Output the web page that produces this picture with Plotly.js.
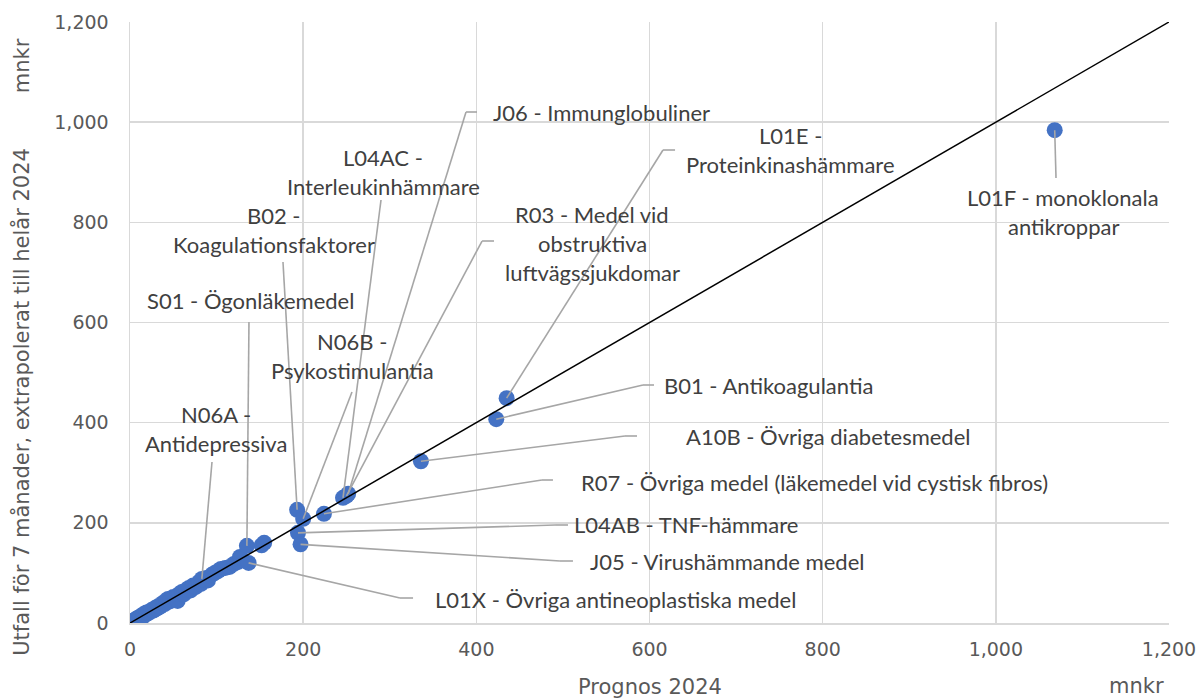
<!DOCTYPE html>
<html>
<head>
<meta charset="utf-8">
<script src="https://cdn.plot.ly/plotly-3.0.1.min.js"></script>
<style>html,body{margin:0;padding:0;background:#fff;}#chart{width:1200px;height:700px;}</style>
</head>
<body>
<div id="chart"></div>
<script>
// Labelled ATC groups
const codes   = ['L01F','L01E','B01','A10B','J06','L04AC','R03','R07','B02','N06B','L04AB','J05','S01','L01X','N06A'];
const prognos = [1068, 435, 423, 336, 252, 246, 250, 224, 193, 200, 194, 197, 135, 137, 83];
const utfall  = [ 984, 449, 407, 323, 258, 250, 254, 218, 226, 208, 180, 157, 154, 120, 88];
const labelText = {
  L01F: ['L01F - monoklonala', 'antikroppar'],
  L01E: ['L01E -', 'Proteinkinashämmare'],
  B01: ['B01 - Antikoagulantia'],
  A10B: ['A10B - Övriga diabetesmedel'],
  J06: ['J06 - Immunglobuliner'],
  L04AC: ['L04AC -', 'Interleukinhämmare'],
  R03: ['R03 - Medel vid', 'obstruktiva', 'luftvägssjukdomar'],
  R07: ['R07 - Övriga medel (läkemedel vid cystisk fibros)'],
  B02: ['B02 -', 'Koagulationsfaktorer'],
  N06B: ['N06B -', 'Psykostimulantia'],
  L04AB: ['L04AB - TNF-hämmare'],
  J05: ['J05 - Virushämmande medel'],
  S01: ['S01 - Ögonläkemedel'],
  L01X: ['L01X - Övriga antineoplastiska medel'],
  N06A: ['N06A -', 'Antidepressiva']
};
// Unlabelled ATC groups
const otherPrognos = [0,1,2,2,3,4,5,6,7,8,9,10,11,12,14,15,16,18,19,21,23,25,27,29,31,33,35,38,40,42,44,46,50,53,55,57,60,62,65,68,70,73,76,80,82,85,88,90,95,98,102,105,110,115,120,125,127,128,152,155];
const otherUtfall  = [0,1,1,3,2,4,5,5,8,7,10,9,12,11,15,13,18,17,21,20,22,26,25,30,29,34,33,40,38,45,48,43,52,50,44,58,62,57,66,70,65,75,72,82,78,86,90,85,97,100,104,108,110,112,118,122,132,130,155,160];
const refLine = [0, 1200];
const tickVals = [0, 200, 400, 600, 800, 1000, 1200];
const tickText = ['0', '200', '400', '600', '800', '1,000', '1,200'];

// label placement (layout, data units): [centerX, firstLineY], line step
const labelPos = {
  L01F: [1077.6, 848.6], L01E: [763.4, 972.4], B01: [736.9, 475.2], A10B: [807.3, 371.4],
  J06: [545.1, 1020.3], L04AC: [292.2, 928.5], R03: [533.6, 816.6], R07: [791.1, 281.5],
  B02: [166.3, 812.7], N06B: [256.4, 563.0], L04AB: [642.2, 195.7], J05: [689.5, 123.8],
  S01: [138.6, 644.9], L01X: [560.2, 47.9], N06A: [99.3, 417.3]
};
const lineStep = 57.9;
// leader lines: elbow [x,y] and optional stub end x
const leader = {
  L01F: [1069.5, 888.5, null], L01E: [615.6, 944.4, 629.5], B01: [592.5, 475.2, 605.2],
  A10B: [571.7, 373.4, 585.6], J06: [388.1, 1020.3, 400.8], L04AC: [289.9, 844.6, null],
  R03: [406.6, 762.7, 420.4], R07: [475.8, 285.5, 488.5], B02: [176.7, 720.8, null],
  N06B: [256.4, 461.2, null], L04AB: [490.9, 195.7, 505.9], J05: [496.6, 123.8, 511.6],
  S01: [137.4, 601.0, null], L01X: [311.8, 49.9, 326.9], N06A: [94.7, 321.5, null]
};

const annotations = [];
const shapes = [];
const leaderStyle = {color: '#a6a6a6', width: 1.6};
codes.forEach((c, i) => {
  const p = labelPos[c];
  labelText[c].forEach((t, j) => {
    annotations.push({x: p[0], y: p[1] - j * lineStep, xref: 'x', yref: 'y', text: t, showarrow: false,
      xanchor: 'center', yanchor: 'middle', font: {family: 'Lato, sans-serif', size: 22, color: '#404040'}});
  });
  const L = leader[c];
  shapes.push({type: 'line', xref: 'x', yref: 'y', x0: prognos[i], y0: utfall[i], x1: L[0], y1: L[1], line: leaderStyle});
  if (L[2] !== null) {
    shapes.push({type: 'line', xref: 'x', yref: 'y', x0: L[0], y0: L[1], x1: L[2], y1: L[1], line: leaderStyle});
  }
});

const axisFont = {family: 'DejaVu Sans, Verdana, sans-serif', size: 21, color: '#595959'};
annotations.push(
  {xref: 'paper', yref: 'paper', x: 0.5005, y: -0.106, text: 'Prognos 2024', showarrow: false, xanchor: 'center', yanchor: 'middle', font: axisFont},
  {xref: 'paper', yref: 'paper', x: 0.969, y: -0.104, text: 'mnkr', showarrow: false, xanchor: 'center', yanchor: 'middle', font: axisFont},
  {xref: 'paper', yref: 'paper', x: -0.104, y: 0.368, text: 'Utfall för 7 månader, extrapolerat till helår 2024', textangle: -90, showarrow: false, xanchor: 'center', yanchor: 'middle', font: axisFont},
  {xref: 'paper', yref: 'paper', x: -0.104, y: 0.928, text: 'mnkr', textangle: -90, showarrow: false, xanchor: 'center', yanchor: 'middle', font: axisFont}
);

const traces = [
  {x: otherPrognos, y: otherUtfall, mode: 'markers', type: 'scatter', marker: {color: '#4472C4', size: 16}, hoverinfo: 'x+y'},
  {x: prognos, y: utfall, text: codes, mode: 'markers', type: 'scatter', marker: {color: '#4472C4', size: 16}, hoverinfo: 'text+x+y'},
  {x: refLine, y: refLine, mode: 'lines', type: 'scatter', line: {color: '#000000', width: 1.5}, hoverinfo: 'skip'}
];

const tickFont = {family: 'DejaVu Sans, Verdana, sans-serif', size: 19, color: '#595959'};
const layout = {
  width: 1200, height: 700,
  margin: {l: 130, r: 31, t: 22, b: 77},
  paper_bgcolor: '#ffffff', plot_bgcolor: '#ffffff',
  showlegend: false,
  xaxis: {range: [0, 1200], tickvals: tickVals, ticktext: tickText, showgrid: true, gridcolor: '#d9d9d9', gridwidth: 1.5,
    zeroline: false, showline: true, linecolor: '#d9d9d9', linewidth: 1.5, ticks: '', tickfont: tickFont, ticklabelstandoff: 9, fixedrange: true},
  yaxis: {range: [0, 1200], tickvals: tickVals, ticktext: tickText, showgrid: true, gridcolor: '#d9d9d9', gridwidth: 1.5,
    zeroline: false, showline: true, linecolor: '#d9d9d9', linewidth: 1.5, ticks: '', tickfont: tickFont, ticklabelstandoff: 16, fixedrange: true},
  annotations: annotations,
  shapes: shapes
};

Plotly.newPlot('chart', traces, layout, {displayModeBar: false, staticPlot: true});
</script>
</body>
</html>
